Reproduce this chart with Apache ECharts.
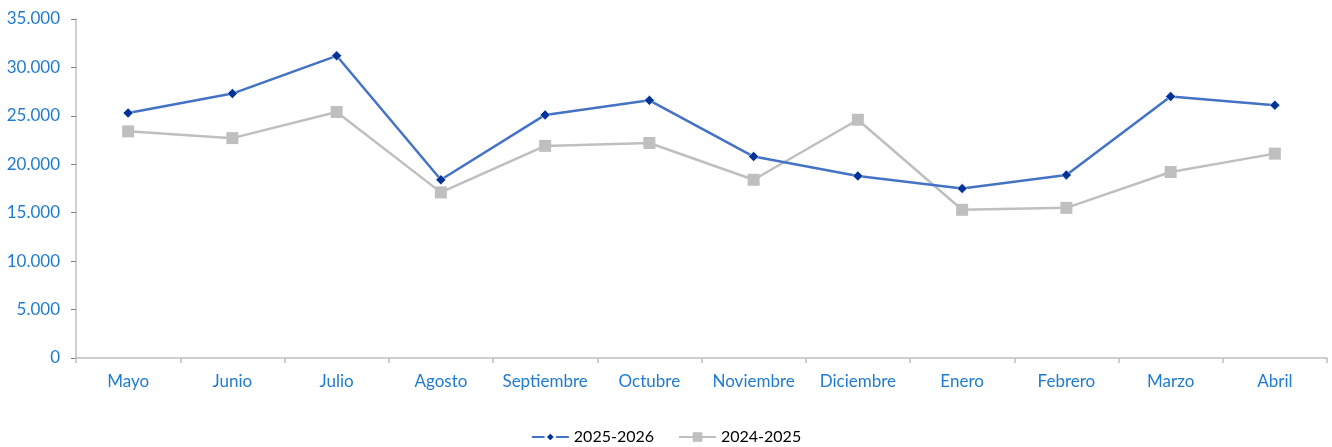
<!DOCTYPE html>
<html><head><meta charset="utf-8">
<script src="https://cdn.jsdelivr.net/npm/echarts@6/dist/echarts.min.js"></script>
<style>html,body{margin:0;padding:0;background:#fff}#c{width:1332px;height:447px}</style>
</head><body><div id="c"></div>
<script>
const categories = ['Mayo','Junio','Julio','Agosto','Septiembre','Octubre','Noviembre','Diciembre','Enero','Febrero','Marzo','Abril'];
const serie2025 = [25300, 27300, 31200, 18400, 25100, 26600, 20800, 18800, 17500, 18900, 27000, 26100];
const serie2024 = [23400, 22700, 25400, 17100, 21900, 22200, 18400, 24600, 15300, 15500, 19200, 21100];
const seriesNames = ['2025-2026', '2024-2025'];

const chart = echarts.init(document.getElementById('c'), null, {renderer: 'canvas'});
const font = 'Lato, "Open Sans", sans-serif';
chart.setOption({
  animation: false,
  textStyle: {fontFamily: font},
  grid: {left: 76, right: 5, top: 19, bottom: 89, containLabel: false},
  legend: {
    bottom: 2, left: 'center', padding: 0, itemWidth: 37, itemHeight: 12, itemGap: 24,
    textStyle: {fontFamily: font, fontSize: 16, color: '#000'},
    data: seriesNames
  },
  xAxis: {
    type: 'category', data: categories, boundaryGap: true,
    axisLine: {lineStyle: {color: '#BFBFBF', width: 1.5}},
    axisTick: {show: true, length: 5, interval: 0, lineStyle: {color: '#BFBFBF', width: 1.5}},
    axisLabel: {color: '#1F7BD0', fontSize: 17, margin: 15, interval: 0, hideOverlap: false, fontFamily: font}
  },
  yAxis: {
    type: 'value', min: 0, max: 35000, interval: 5000,
    axisLine: {show: true, lineStyle: {color: '#BFBFBF', width: 1.5}},
    axisTick: {show: true, length: 5, lineStyle: {color: '#808080', width: 1}},
    splitLine: {show: false},
    axisLabel: {color: '#1F7BD0', fontSize: 17, margin: 16, fontFamily: font,
      formatter: v => v === 0 ? '0' : v.toLocaleString('de-DE')}
  },
  series: [
    {name: seriesNames[0], type: 'line', data: serie2025, symbol: 'diamond', symbolSize: 10,
     lineStyle: {color: '#4472C4', width: 2.5}, itemStyle: {color: '#003399', borderColor: '#ffffff', borderWidth: 0.5}, z: 3},
    {name: seriesNames[1], type: 'line', data: serie2024, symbol: 'rect', symbolSize: 12,
     lineStyle: {color: '#BFBFBF', width: 2.5}, itemStyle: {color: '#BFBFBF'}, z: 2}
  ]
});
</script></body></html>
